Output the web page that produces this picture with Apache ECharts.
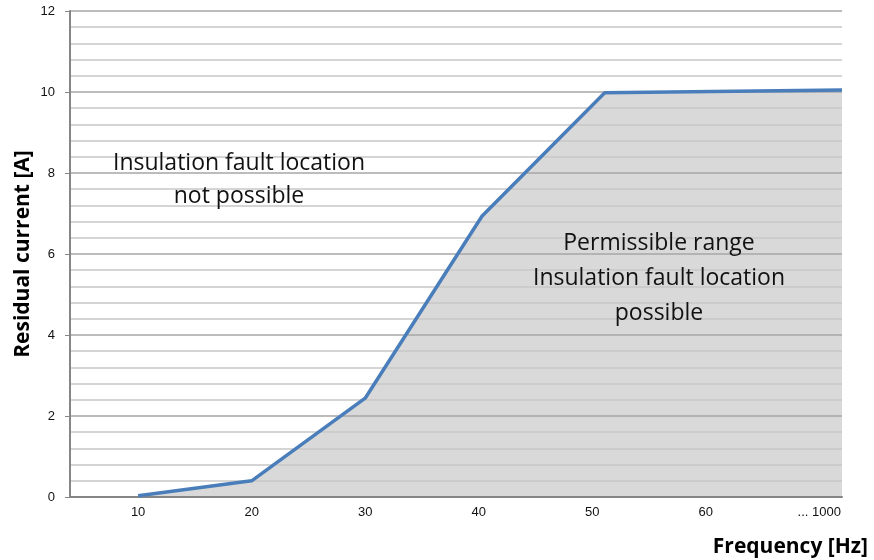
<!DOCTYPE html>
<html>
<head>
<meta charset="utf-8">
<script src="https://cdn.jsdelivr.net/npm/echarts@6/dist/echarts.min.js"></script>
<style>
  html, body { margin: 0; padding: 0; background: #fff; }
  #chart { width: 874px; height: 560px; }
</style>
</head>
<body>
<div id="chart"></div>
<script>
// Frequency positions on the axis (the last point stands for the "... 1000" end)
const frequency = [10, 20, 30, 40.3, 51.1, 72];
// Residual current limit in amperes
const residualCurrent = [0.03, 0.4, 2.44, 6.94, 9.98, 10.05];
// Labelled frequency ticks and their texts
const freqTicks = [10, 20, 30, 40, 50, 60, 70];
const freqTickLabels = ['10', '20', '30', '40', '50', '60', '... 1000'];

const chart = echarts.init(document.getElementById('chart'), null, { renderer: 'canvas' });

const textFont = '"Open Sans", "Noto Sans", sans-serif';
const tickFont = '"Liberation Sans", Arial, sans-serif';
const points = frequency.map((f, i) => [f, residualCurrent[i]]);

chart.setOption({
  animation: false,
  backgroundColor: '#ffffff',
  grid: { left: 70, right: 32, top: 11, bottom: 63, containLabel: false },
  xAxis: {
    type: 'value',
    min: 4,
    max: 72,
    z: 1,
    splitLine: { show: false },
    axisTick: { show: false },
    axisLine: { lineStyle: { color: '#868686', width: 2 } },
    axisLabel: {
      customValues: freqTicks,
      formatter: function (v) {
        const i = freqTicks.indexOf(v);
        return i >= 0 ? freqTickLabels[i] : '';
      },
      color: '#111',
      fontSize: 13,
      fontFamily: tickFont,
      margin: 9
    }
  },
  yAxis: {
    type: 'value',
    min: 0,
    max: 12,
    interval: 2,
    z: 1,
    name: 'Residual current [A]',
    nameLocation: 'middle',
    nameMoveOverlap: false,
    nameGap: 36,
    nameTextStyle: {
      fontFamily: textFont,
      fontWeight: 'bold',
      fontSize: 21,
      color: '#000'
    },
    axisLine: { show: true, lineStyle: { color: '#868686', width: 2 } },
    axisTick: { show: true, length: 5, lineStyle: { color: '#868686', width: 1 } },
    axisLabel: {
      color: '#111',
      fontSize: 13,
      fontFamily: tickFont,
      margin: 15
    },
    splitLine: { show: true, lineStyle: { color: '#a6a6a6', width: 1.5 } },
    minorTick: { show: false, splitNumber: 5 },
    minorSplitLine: { show: true, lineStyle: { color: '#c8c8c8', width: 1.5 } }
  },
  series: [
    {
      // shaded permissible region, kept under the grid lines
      type: 'line',
      z: 0,
      data: points,
      symbol: 'none',
      lineStyle: { width: 0, opacity: 0 },
      areaStyle: { color: '#d9d9d9', opacity: 1, origin: 'start' }
    },
    {
      // limit curve
      type: 'line',
      z: 3,
      data: points,
      symbol: 'none',
      lineStyle: { color: '#4a7ebb', width: 3.5 }
    }
  ],
  graphic: [
    {
      type: 'text',
      x: 239, y: 147,
      z: 10,
      style: {
        text: 'Insulation fault location\nnot possible',
        align: 'center',
        verticalAlign: 'top',
        font: '23px ' + textFont,
        fill: '#111',
        lineHeight: 33
      }
    },
    {
      type: 'text',
      x: 659, y: 226,
      z: 10,
      style: {
        text: 'Permissible range\nInsulation fault location\npossible',
        align: 'center',
        verticalAlign: 'top',
        font: '23px ' + textFont,
        fill: '#111',
        lineHeight: 35
      }
    },
    {
      type: 'text',
      right: 6, top: 537,
      z: 10,
      style: {
        text: 'Frequency [Hz]',
        font: 'bold 21px ' + textFont,
        fill: '#000'
      }
    }
  ]
});
</script>
</body>
</html>
